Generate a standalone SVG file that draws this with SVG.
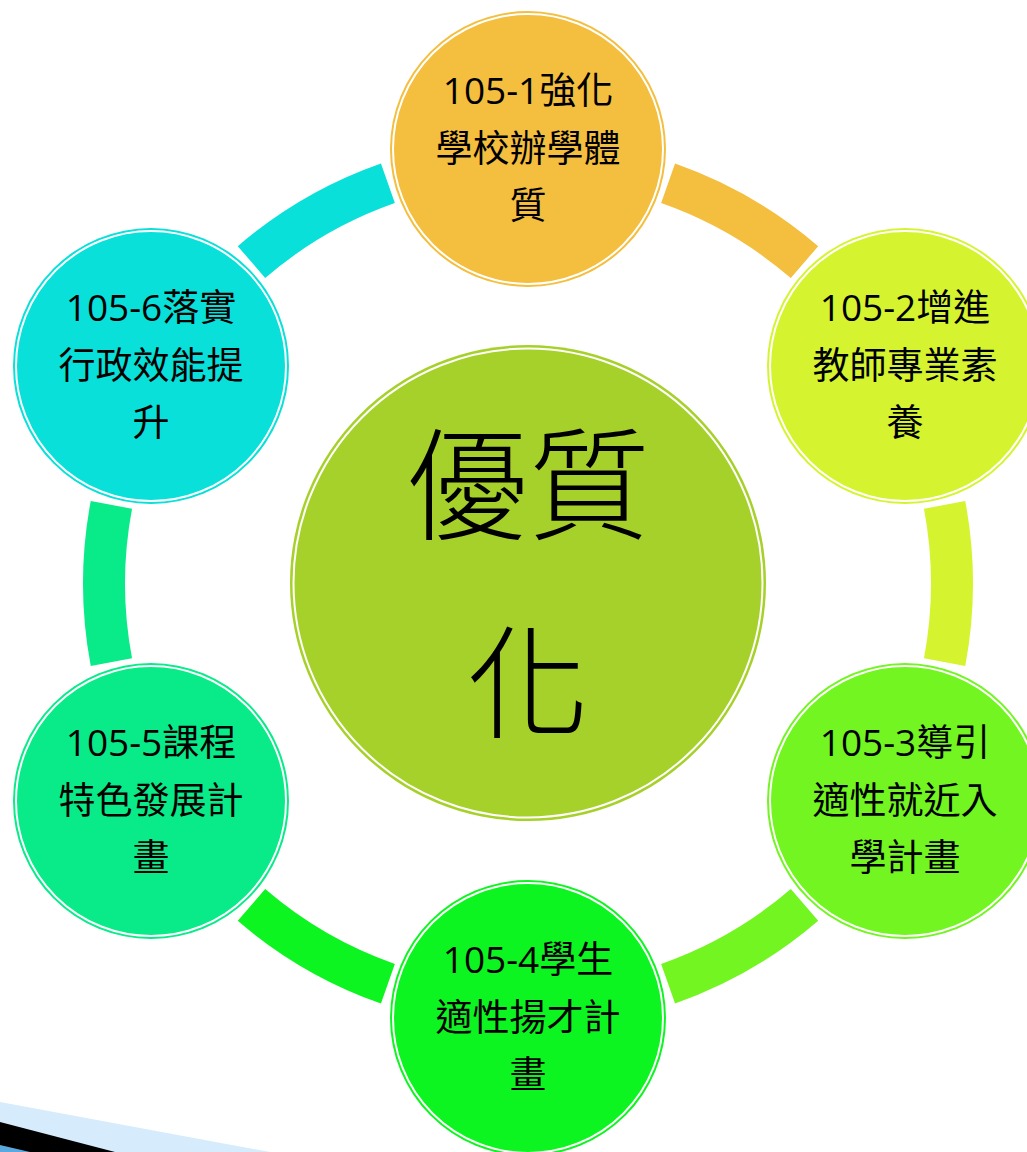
<svg xmlns="http://www.w3.org/2000/svg" width="1027" height="1152" viewBox="0 0 1027 1152">
<style>
.arc{fill:none;stroke-width:42;stroke-linecap:butt}
.ring{fill:none;stroke:#ffffff;stroke-width:2}
.lbl{font-family:"Open Sans","Noto Sans CJK TC","Noto Sans CJK SC",sans-serif;font-size:37px;font-weight:400;fill:#000000;text-anchor:middle}
.big{font-family:"Noto Sans CJK TC","Noto Sans CJK SC",sans-serif;font-size:122px;font-weight:300;fill:#000000;text-anchor:middle}
</style>
<rect width="1027" height="1152" fill="#ffffff"/>
<g id="decor">
<polygon points="0,1102 270,1152 0,1152" fill="#D6EBFC"/>
<polygon points="0,1122 115,1152 0,1152" fill="#000000"/>
<polygon points="0,1145 30,1152 0,1152" fill="#5AA8E0"/>
</g>
<g id="connectors">
<path class="arc" stroke="#F4BE3E" d="M668.1,183.3 A424,424 0 0 1 804.5,262.1"/>
<path class="arc" stroke="#D5F42F" d="M944.6,504.8 A424,424 0 0 1 944.6,662.2"/>
<path class="arc" stroke="#72F520" d="M804.5,904.9 A424,424 0 0 1 668.1,983.7"/>
<path class="arc" stroke="#0DF520" d="M387.9,983.7 A424,424 0 0 1 251.5,904.9"/>
<path class="arc" stroke="#08EB88" d="M111.4,662.2 A424,424 0 0 1 111.4,504.8"/>
<path class="arc" stroke="#08E0D9" d="M251.5,262.1 A424,424 0 0 1 387.9,183.3"/>
</g>
<g id="center">
<circle cx="528" cy="583" r="238" fill="#A6D12A"/>
<circle class="ring" cx="528" cy="583" r="234.5"/>
<text class="big" x="528" y="530">優質</text>
<text class="big" x="528" y="728">化</text>
</g>
<g id="node1">
<circle cx="528" cy="149" r="138" fill="#F4BE3E"/>
<circle class="ring" cx="528" cy="149" r="135"/>
<text class="lbl" x="528" y="104">105-1強化</text>
<text class="lbl" x="528" y="162">學校辦學體</text>
<text class="lbl" x="528" y="219">質</text>
</g>
<g id="node2">
<circle cx="905" cy="366" r="138" fill="#D5F42F"/>
<circle class="ring" cx="905" cy="366" r="135"/>
<text class="lbl" x="905" y="321">105-2增進</text>
<text class="lbl" x="905" y="379">教師專業素</text>
<text class="lbl" x="905" y="436">養</text>
</g>
<g id="node3">
<circle cx="905" cy="801" r="138" fill="#72F520"/>
<circle class="ring" cx="905" cy="801" r="135"/>
<text class="lbl" x="905" y="756">105-3導引</text>
<text class="lbl" x="905" y="814">適性就近入</text>
<text class="lbl" x="905" y="871">學計畫</text>
</g>
<g id="node4">
<circle cx="528" cy="1018" r="138" fill="#0DF520"/>
<circle class="ring" cx="528" cy="1018" r="135"/>
<text class="lbl" x="528" y="973">105-4學生</text>
<text class="lbl" x="528" y="1031">適性揚才計</text>
<text class="lbl" x="528" y="1088">畫</text>
</g>
<g id="node5">
<circle cx="151" cy="801" r="138" fill="#08EB88"/>
<circle class="ring" cx="151" cy="801" r="135"/>
<text class="lbl" x="151" y="756">105-5課程</text>
<text class="lbl" x="151" y="814">特色發展計</text>
<text class="lbl" x="151" y="871">畫</text>
</g>
<g id="node6">
<circle cx="151" cy="366" r="138" fill="#08E0D9"/>
<circle class="ring" cx="151" cy="366" r="135"/>
<text class="lbl" x="151" y="321">105-6落實</text>
<text class="lbl" x="151" y="379">行政效能提</text>
<text class="lbl" x="151" y="436">升</text>
</g>
</svg>
